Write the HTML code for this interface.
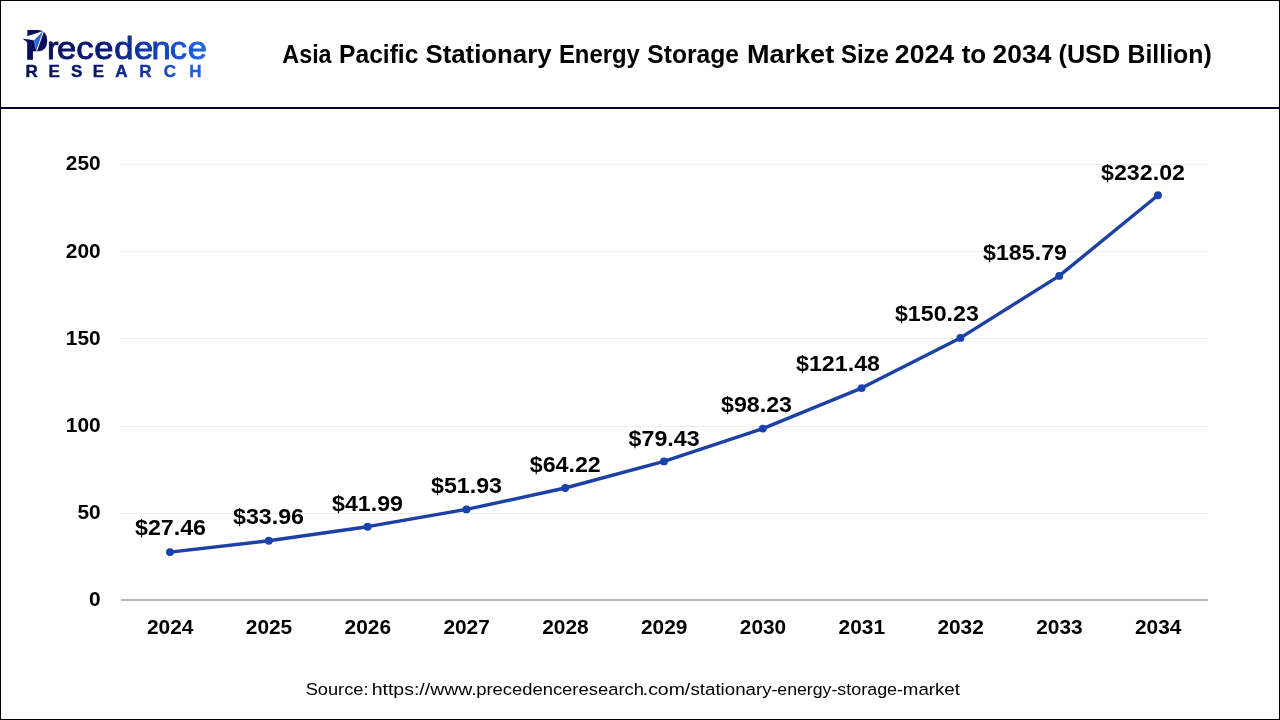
<!DOCTYPE html>
<html lang="en">
<head>
<meta charset="utf-8">
<title>Asia Pacific Stationary Energy Storage Market Size 2024 to 2034 (USD Billion)</title>
<style>
html,body{margin:0;padding:0;background:#fff;}
body{width:1280px;height:720px;overflow:hidden;position:relative;font-family:"Liberation Sans",Arial,Helvetica,sans-serif;}
#frame{position:absolute;left:0;top:0;width:1278px;height:718px;border:1px solid #000;}
#hr{position:absolute;left:0;top:107px;width:1280px;height:2px;background:#07072e;}
svg{position:absolute;left:0;top:0;will-change:transform;}
text{font-family:"Liberation Sans",Arial,Helvetica,sans-serif;}
</style>
</head>
<body>
<div id="frame"></div>
<div id="hr"></div>
<svg width="1280" height="720" viewBox="0 0 1280 720">
<defs>
<linearGradient id="lg" gradientUnits="userSpaceOnUse" x1="27" y1="0" x2="206" y2="0">
<stop offset="0" stop-color="#0a0e5c"/>
<stop offset="0.42" stop-color="#0c1770"/>
<stop offset="0.60" stop-color="#102f98"/>
<stop offset="0.80" stop-color="#164bc2"/>
<stop offset="1" stop-color="#1e66ea"/>
</linearGradient>
<linearGradient id="lg2" gradientUnits="userSpaceOnUse" x1="25" y1="0" x2="190.7" y2="0">
<stop offset="0" stop-color="#0a0e5c"/>
<stop offset="0.42" stop-color="#0c1770"/>
<stop offset="0.60" stop-color="#102f98"/>
<stop offset="0.80" stop-color="#164bc2"/>
<stop offset="1" stop-color="#1e66ea"/>
</linearGradient>
</defs>
<g id="logo">
<text transform="scale(1.08,1)" fill="url(#lg2)"><tspan x="23.10" y="62.8" font-size="47.6" font-weight="700" fill="#0a0e5c" textLength="21.69" lengthAdjust="spacingAndGlyphs">P</tspan><tspan x="43.49 52.81 70.64 87.37 105.69 124.08 140.28 157.07 173.81" y="59.3" font-size="32" stroke="url(#lg2)" stroke-width="0.9">recedence</tspan></text>
<rect x="20" y="59.6" width="29" height="5" fill="#fff"/>
<polygon points="31,33 43,33 43,49 31,49" fill="#0a0e5c"/>
<polygon points="27.4,36 32.9,36 32.9,59.6 27.4,59.6" fill="#0a0e5c"/>
<polygon points="22.2,38.5 34.2,40.4 34.2,45 27.6,42.6" fill="#0a0e5c"/>
<polygon points="21.6,38.1 43.3,30.9 34.2,40.5" fill="#fff"/>
<polygon points="42.6,32.0 36.1,49.6 34.2,40.5" fill="#1f6ae0"/>
<line x1="34.3" y1="40.6" x2="36.0" y2="49.4" stroke="#7fb0ff" stroke-width="0.7"/>
<line x1="44.0" y1="29.6" x2="36.6" y2="50.8" stroke="#fff" stroke-width="1.1"/>
<text x="25.40 48.58 70.89 92.63 115.17 139.20 163.65 189.23" y="77" font-size="17" font-weight="700" fill="url(#lg)" stroke="url(#lg)" stroke-width="0.4">RESEARCH</text>
</g>
<text y="62.75" font-size="26.2" font-weight="700" fill="#000"><tspan x="282.33" textLength="49.26" lengthAdjust="spacingAndGlyphs">Asia</tspan> <tspan x="339.11" textLength="79.27" lengthAdjust="spacingAndGlyphs">Pacific</tspan> <tspan x="425.51" textLength="126.05" lengthAdjust="spacingAndGlyphs">Stationary</tspan> <tspan x="558.91" textLength="80.85" lengthAdjust="spacingAndGlyphs">Energy</tspan> <tspan x="647.30" textLength="91.64" lengthAdjust="spacingAndGlyphs">Storage</tspan> <tspan x="746.94" textLength="87.24" lengthAdjust="spacingAndGlyphs">Market</tspan> <tspan x="840.91" textLength="48.02" lengthAdjust="spacingAndGlyphs">Size</tspan> <tspan x="894.89" textLength="59.13" lengthAdjust="spacingAndGlyphs">2024</tspan> <tspan x="961.65" textLength="24.61" lengthAdjust="spacingAndGlyphs">to</tspan> <tspan x="992.59" textLength="58.78" lengthAdjust="spacingAndGlyphs">2034</tspan> <tspan x="1058.50" textLength="61.58" lengthAdjust="spacingAndGlyphs">(USD</tspan> <tspan x="1127.54" textLength="84.13" lengthAdjust="spacingAndGlyphs">Billion)</tspan></text>
<rect x="120" y="164" width="1088" height="1" fill="#efefef"/>
<rect x="120" y="251" width="1088" height="1" fill="#efefef"/>
<rect x="120" y="338" width="1088" height="1" fill="#efefef"/>
<rect x="120" y="426" width="1088" height="1" fill="#efefef"/>
<rect x="120" y="513" width="1088" height="1" fill="#efefef"/>
<rect x="120.8" y="599" width="1087.2" height="2" fill="#b9b9b9"/>
<text transform="translate(100.6,606.0) scale(1.06,1)" font-size="19.7" font-weight="700" fill="#000" text-anchor="end">0</text>
<text transform="translate(100.6,519.2) scale(1.06,1)" font-size="19.7" font-weight="700" fill="#000" text-anchor="end">50</text>
<text transform="translate(100.6,432.1) scale(1.06,1)" font-size="19.7" font-weight="700" fill="#000" text-anchor="end">100</text>
<text transform="translate(100.6,344.8) scale(1.06,1)" font-size="19.7" font-weight="700" fill="#000" text-anchor="end">150</text>
<text transform="translate(100.6,257.8) scale(1.06,1)" font-size="19.7" font-weight="700" fill="#000" text-anchor="end">200</text>
<text transform="translate(100.6,170.0) scale(1.06,1)" font-size="19.7" font-weight="700" fill="#000" text-anchor="end">250</text>
<text transform="translate(170.2,633.9) scale(1.06,1)" font-size="19.7" font-weight="700" fill="#000" text-anchor="middle">2024</text>
<text transform="translate(269.0,633.9) scale(1.06,1)" font-size="19.7" font-weight="700" fill="#000" text-anchor="middle">2025</text>
<text transform="translate(367.8,633.9) scale(1.06,1)" font-size="19.7" font-weight="700" fill="#000" text-anchor="middle">2026</text>
<text transform="translate(466.6,633.9) scale(1.06,1)" font-size="19.7" font-weight="700" fill="#000" text-anchor="middle">2027</text>
<text transform="translate(565.4,633.9) scale(1.06,1)" font-size="19.7" font-weight="700" fill="#000" text-anchor="middle">2028</text>
<text transform="translate(664.2,633.9) scale(1.06,1)" font-size="19.7" font-weight="700" fill="#000" text-anchor="middle">2029</text>
<text transform="translate(763.0,633.9) scale(1.06,1)" font-size="19.7" font-weight="700" fill="#000" text-anchor="middle">2030</text>
<text transform="translate(861.8,633.9) scale(1.06,1)" font-size="19.7" font-weight="700" fill="#000" text-anchor="middle">2031</text>
<text transform="translate(960.6,633.9) scale(1.06,1)" font-size="19.7" font-weight="700" fill="#000" text-anchor="middle">2032</text>
<text transform="translate(1059.4,633.9) scale(1.06,1)" font-size="19.7" font-weight="700" fill="#000" text-anchor="middle">2033</text>
<text transform="translate(1158.2,633.9) scale(1.06,1)" font-size="19.7" font-weight="700" fill="#000" text-anchor="middle">2034</text>
<polyline points="170.0,552.1 268.8,540.8 367.6,526.7 466.4,509.4 565.2,488.0 664.0,461.4 762.8,428.6 861.6,388.1 960.4,337.9 1059.2,275.9 1158.0,195.2" fill="none" stroke="#1c40a4" stroke-width="3.4" stroke-linejoin="round" stroke-linecap="round"/>
<circle cx="170.0" cy="552.1" r="3.95" fill="#1742b0"/>
<circle cx="268.8" cy="540.8" r="3.95" fill="#1742b0"/>
<circle cx="367.6" cy="526.7" r="3.95" fill="#1742b0"/>
<circle cx="466.4" cy="509.4" r="3.95" fill="#1742b0"/>
<circle cx="565.2" cy="488.0" r="3.95" fill="#1742b0"/>
<circle cx="664.0" cy="461.4" r="3.95" fill="#1742b0"/>
<circle cx="762.8" cy="428.6" r="3.95" fill="#1742b0"/>
<circle cx="861.6" cy="388.1" r="3.95" fill="#1742b0"/>
<circle cx="960.4" cy="337.9" r="3.95" fill="#1742b0"/>
<circle cx="1059.2" cy="275.9" r="3.95" fill="#1742b0"/>
<circle cx="1158.0" cy="195.2" r="3.95" fill="#1742b0"/>
<text transform="translate(170.50,535.00) scale(1.055,1)" font-size="22" font-weight="700" fill="#000" text-anchor="middle">$27.46</text>
<text transform="translate(268.50,524.25) scale(1.055,1)" font-size="22" font-weight="700" fill="#000" text-anchor="middle">$33.96</text>
<text transform="translate(367.50,510.50) scale(1.055,1)" font-size="22" font-weight="700" fill="#000" text-anchor="middle">$41.99</text>
<text transform="translate(466.50,493.25) scale(1.055,1)" font-size="22" font-weight="700" fill="#000" text-anchor="middle">$51.93</text>
<text transform="translate(565.25,471.75) scale(1.055,1)" font-size="22" font-weight="700" fill="#000" text-anchor="middle">$64.22</text>
<text transform="translate(664.10,445.50) scale(1.055,1)" font-size="22" font-weight="700" fill="#000" text-anchor="middle">$79.43</text>
<text transform="translate(756.50,412.00) scale(1.055,1)" font-size="22" font-weight="700" fill="#000" text-anchor="middle">$98.23</text>
<text transform="translate(838.00,371.25) scale(1.055,1)" font-size="22" font-weight="700" fill="#000" text-anchor="middle">$121.48</text>
<text transform="translate(936.90,321.25) scale(1.055,1)" font-size="22" font-weight="700" fill="#000" text-anchor="middle">$150.23</text>
<text transform="translate(1025.00,259.50) scale(1.055,1)" font-size="22" font-weight="700" fill="#000" text-anchor="middle">$185.79</text>
<text transform="translate(1143.00,180.00) scale(1.055,1)" font-size="22" font-weight="700" fill="#000" text-anchor="middle">$232.02</text>
<text y="695.1" font-size="16.9" fill="#000"><tspan x="305.69" textLength="62.79" lengthAdjust="spacingAndGlyphs">Source:</tspan> <tspan x="371.66" textLength="105.15" lengthAdjust="spacingAndGlyphs">https://www.</tspan><tspan x="476.21" textLength="167.75" lengthAdjust="spacingAndGlyphs">precedenceresearch</tspan><tspan x="642.78" textLength="47.48" lengthAdjust="spacingAndGlyphs">.com/</tspan><tspan x="690.45" textLength="87.30" lengthAdjust="spacingAndGlyphs">stationary-</tspan><tspan x="777.31" textLength="60.00" lengthAdjust="spacingAndGlyphs">energy-</tspan><tspan x="837.27" textLength="65.79" lengthAdjust="spacingAndGlyphs">storage-</tspan><tspan x="902.82" textLength="57.12" lengthAdjust="spacingAndGlyphs">market</tspan></text>
</svg>
</body>
</html>
